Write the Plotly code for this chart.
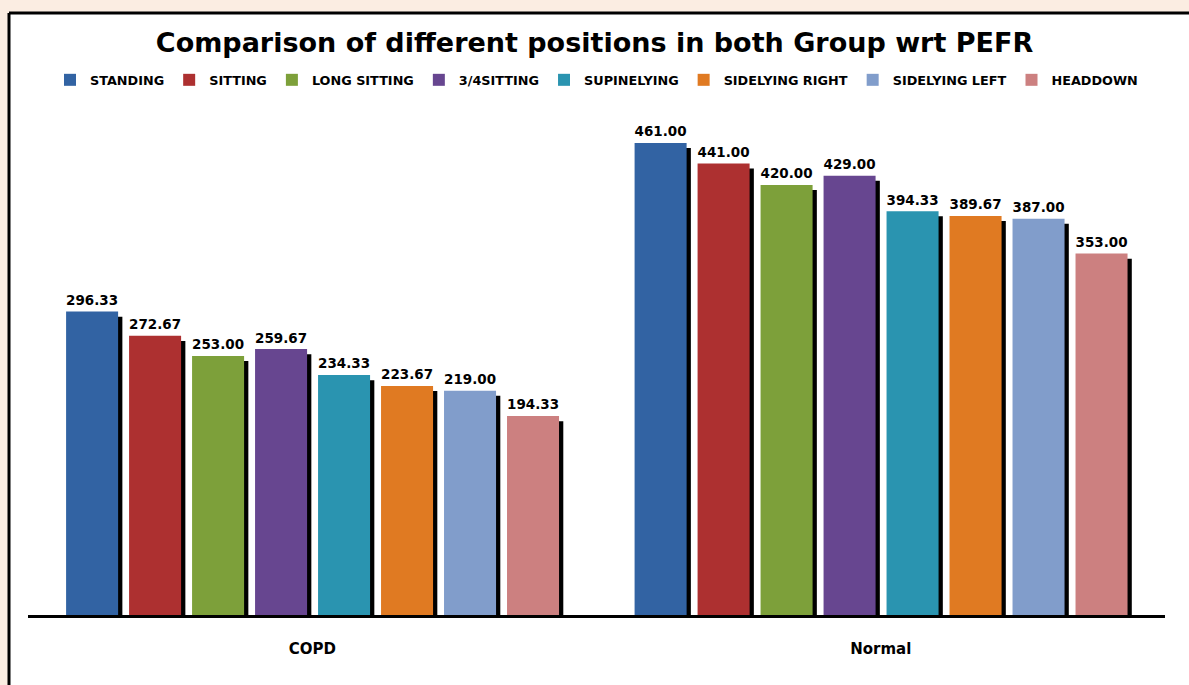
import plotly.graph_objects as go

categories = ["COPD", "Normal"]
positions = ["STANDING", "SITTING", "LONG SITTING", "3/4SITTING", "SUPINELYING",
             "SIDELYING RIGHT", "SIDELYING LEFT", "HEADDOWN"]
copd_values = [296.33, 272.67, 253.00, 259.67, 234.33, 223.67, 219.00, 194.33]
normal_values = [461.00, 441.00, 420.00, 429.00, 394.33, 389.67, 387.00, 353.00]
colors = ["#3263A3", "#AD3030", "#7DA03A", "#674690", "#2A94B0",
          "#E07A22", "#819DCB", "#CC8080"]

x_idx = [0, 1]
pitch = 0.1108
bar_w = 0.0915
start = -0.433

fig = go.Figure()
for i, name in enumerate(positions):
    vals = [copd_values[i], normal_values[i]]
    off = start + i * pitch
    # shadow
    fig.add_trace(go.Bar(
        x=x_idx, y=[v - 5 for v in vals], offset=off + 0.0075, width=bar_w,
        marker=dict(color="#000000", line=dict(width=0)),
        showlegend=False, hoverinfo="skip"))
    fig.add_trace(go.Bar(
        x=x_idx, y=vals, offset=off, width=bar_w, name=name,
        marker=dict(color=colors[i], line=dict(width=0)),
        texttemplate="%{y:.2f}", textposition="outside", cliponaxis=False,
        textfont=dict(family="DejaVu Sans", size=15, color="#000000", weight="bold")))

left_x = (9 - 28) / 1137
top_y = (615 - 13) / 512

fig.update_layout(
    width=1189, height=685,
    barmode="overlay",
    margin=dict(l=28, r=24, t=103, b=70),
    paper_bgcolor="#FBEDE2",
    plot_bgcolor="rgba(0,0,0,0)",
    title=dict(text="<b>Comparison of different positions in both Group wrt PEFR</b>",
               x=0.5, xanchor="center", y=1 - 43 / 685, yanchor="middle",
               font=dict(family="DejaVu Sans", size=27, color="#000000")),
    legend=dict(orientation="h", x=0.5, xanchor="center", y=1 + (103 - 80) / 512,
                yanchor="middle", font=dict(family="DejaVu Sans", size=12.8, color="#000000",
                                            weight="bold"),
                itemwidth=30, tracegroupgap=0, bgcolor="rgba(0,0,0,0)"),
    xaxis=dict(tickmode="array", tickvals=x_idx, ticktext=["<b>%s</b>" % c for c in categories],
               range=[-0.5, 1.5], showline=True, linecolor="#000000", linewidth=3,
               ticks="outside", ticklen=18, tickcolor="rgba(0,0,0,0)",
               tickfont=dict(family="DejaVu Sans", size=15, color="#000000"),
               showgrid=False, zeroline=False),
    yaxis=dict(range=[0, 500], visible=False, showgrid=False),
    shapes=[
        dict(type="rect", xref="paper", yref="paper",
             x0=left_x, x1=1.2, y0=-0.3, y1=top_y,
             line=dict(width=0), fillcolor="#FFFFFF", layer="below"),
        dict(type="line", xref="paper", yref="paper",
             x0=left_x, x1=1.2, y0=top_y, y1=top_y,
             line=dict(color="#000000", width=3), layer="below"),
        dict(type="line", xref="paper", yref="paper",
             x0=left_x, x1=left_x, y0=-0.3, y1=top_y,
             line=dict(color="#000000", width=3), layer="below"),
    ],
)

fig.write_html("out.html")
